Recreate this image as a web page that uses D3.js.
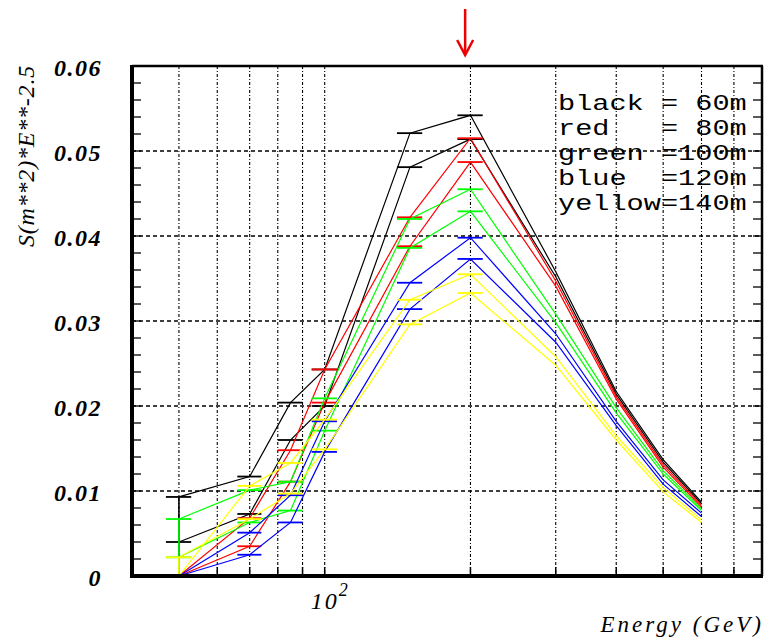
<!DOCTYPE html>
<html>
<head>
<meta charset="utf-8">
<script src="https://cdn.jsdelivr.net/npm/d3@7"></script>
<style>
  html, body { margin: 0; padding: 0; background: #fff; }
  svg { display: block; }
</style>
</head>
<body>
<svg id="chart" width="765" height="643"></svg>
<script>
// ---------------- data ----------------
const energies = [50, 70, 85, 100, 150, 200, 300, 400, 500, 600];
const xErrors  = [3, 4, 5, 6, 9, 12, 0, 0, 0, 0];

const blackA  = [0.0093, 0.0117, 0.0204, 0.0243, 0.0521, 0.0542, 0.0358, 0.0217, 0.0137, 0.0087];
const blackB  = [0.0040, 0.0073, 0.0160, 0.0200, 0.0481, 0.0514, 0.0352, 0.0214, 0.0134, 0.0085];
const redA    = [0.0000, 0.0068, 0.0148, 0.0243, 0.0422, 0.0515, 0.0347, 0.0211, 0.0131, 0.0083];
const redB    = [0.0000, 0.0035, 0.0111, 0.0204, 0.0388, 0.0487, 0.0341, 0.0208, 0.0128, 0.0081];
const greenA  = [0.0067, 0.0101, 0.0111, 0.0209, 0.0420, 0.0455, 0.0308, 0.0198, 0.0124, 0.0079];
const greenB  = [0.0022, 0.0063, 0.0077, 0.0171, 0.0386, 0.0429, 0.0298, 0.0192, 0.0120, 0.0077];
const blueA   = [0.0000, 0.0051, 0.0095, 0.0182, 0.0345, 0.0398, 0.0285, 0.0182, 0.0113, 0.0074];
const blueB   = [0.0000, 0.0025, 0.0063, 0.0146, 0.0314, 0.0373, 0.0275, 0.0177, 0.0108, 0.0070];
const yellowA = [0.0000, 0.0106, 0.0133, 0.0184, 0.0325, 0.0355, 0.0258, 0.0165, 0.0104, 0.0066];
const yellowB = [0.0022, 0.0067, 0.0097, 0.0149, 0.0296, 0.0333, 0.0248, 0.0160, 0.0099, 0.0063];

const seriesNames  = ["black", "red", "green", "blue", "yellow"];
const seriesColors = ["#000000", "#ff0000", "#00ff00", "#0000ff", "#ffff00"];
const seriesPairs  = [[blackA, blackB], [redA, redB], [greenA, greenB], [blueA, blueB], [yellowA, yellowB]];
const legendLabels = ["black = 60m", "red   = 80m", "green =100m", "blue  =120m", "yellow=140m"];

const yTickValues = [0, 0.01, 0.02, 0.03, 0.04, 0.05, 0.06];
const yTickLabels = ["0", "0.01", "0.02", "0.03", "0.04", "0.05", "0.06"];
const xGridValues = [50, 60, 70, 80, 90, 100, 200, 300, 400, 500, 600, 700];
const xLabelValue = 100;
const arrowEnergy = 195;

const yTitle = "S(m**2)*E**-2.5";
const xTitle = "Energy (GeV)";

// ---------------- layout ----------------
const svg = d3.select("#chart");
const L = 132, R = 762, T = 66, B = 576;
const serif = "Liberation Serif";

const x = d3.scaleLog().domain([40, 800]).range([L, R]);
const y = d3.scaleLinear().domain([0, 0.06]).range([B, T]);

// grid
const grid = svg.append("g");
grid.selectAll("line.vg").data(xGridValues).join("line")
  .attr("x1", d => x(d)).attr("x2", d => x(d))
  .attr("y1", T).attr("y2", B)
  .attr("stroke", "#000").attr("stroke-width", 1.1)
  .attr("stroke-dasharray", "3,2,1,2");
grid.selectAll("line.hg").data(yTickValues.slice(1, -1)).join("line")
  .attr("x1", L).attr("x2", R)
  .attr("y1", d => y(d)).attr("y2", d => y(d))
  .attr("stroke", "#000").attr("stroke-width", 1.3)
  .attr("stroke-dasharray", "4,3");

// minor ticks on left & right (every 0.002)
const minorTicks = d3.range(0, 0.0601, 0.002);
const tickLen = 9;
svg.append("g").selectAll("line").data(minorTicks).join("line")
  .attr("x1", L).attr("x2", L + tickLen)
  .attr("y1", d => y(d)).attr("y2", d => y(d))
  .attr("stroke", "#000").attr("stroke-width", 1.3);
svg.append("g").selectAll("line").data(minorTicks).join("line")
  .attr("x1", R).attr("x2", R - tickLen)
  .attr("y1", d => y(d)).attr("y2", d => y(d))
  .attr("stroke", "#000").attr("stroke-width", 1.3);
// bottom ticks
svg.append("g").selectAll("line").data(xGridValues).join("line")
  .attr("x1", d => x(d)).attr("x2", d => x(d))
  .attr("y1", B).attr("y2", B - tickLen)
  .attr("stroke", "#000").attr("stroke-width", 1.5);

// series
const line = d3.line().x(d => x(d[0])).y(d => y(d[1]));
const plot = svg.append("g");
seriesPairs.forEach((pair, si) => {
  const col = seriesColors[si];
  const g = plot.append("g").attr("class", "series-" + seriesNames[si]);
  // vertical bar at first point (from 0 to highest first value)
  const firstMax = d3.max(pair, arr => arr[0]);
  if (firstMax > 0) {
    g.append("line")
      .attr("x1", x(energies[0])).attr("x2", x(energies[0]))
      .attr("y1", y(0)).attr("y2", y(firstMax))
      .attr("stroke", col).attr("stroke-width", 1.6);
  }
  pair.forEach(vals => {
    const pts = energies.map((e, i) => ({e, v: vals[i], err: xErrors[i]}));
    g.append("path").attr("d", line(pts.map(p => [p.e, p.v])))
      .attr("fill", "none").attr("stroke", col).attr("stroke-width", 1.2);
    g.selectAll(null).data(pts.filter(p => p.err > 0)).join("line")
      .attr("x1", p => x(p.e - p.err))
      .attr("x2", p => x(p.e + p.err))
      .attr("y1", p => y(p.v)).attr("y2", p => y(p.v))
      .attr("stroke", col).attr("stroke-width", 1.8);
  });
});

// frame
svg.append("line").attr("x1", L).attr("x2", L).attr("y1", T - 1).attr("y2", B + 2)
  .attr("stroke", "#000").attr("stroke-width", 4);
svg.append("line").attr("x1", L - 2).attr("x2", R + 1).attr("y1", B).attr("y2", B)
  .attr("stroke", "#000").attr("stroke-width", 4);
svg.append("line").attr("x1", L).attr("x2", R + 1).attr("y1", T).attr("y2", T)
  .attr("stroke", "#000").attr("stroke-width", 2.5);
svg.append("line").attr("x1", R).attr("x2", R).attr("y1", T).attr("y2", B)
  .attr("stroke", "#000").attr("stroke-width", 2.5);

// y tick labels
svg.append("g").selectAll("text").data(yTickValues).join("text")
  .attr("x", 102).attr("y", d => y(d))
  .attr("dy", "0.4em")
  .attr("text-anchor", "end")
  .attr("font-family", serif)
  .attr("font-style", "italic")
  .attr("font-weight", "bold")
  .attr("font-size", 24).attr("letter-spacing", 1.5)
  .text((d, i) => yTickLabels[i]);

// y title
svg.append("text")
  .attr("transform", `translate(34, 156) rotate(-90)`)
  .attr("text-anchor", "middle")
  .attr("font-family", serif)
  .attr("font-style", "italic")
  .attr("font-size", 24)
  .attr("letter-spacing", 0.8)
  .text(yTitle);

// x label 10^2
const xl = svg.append("text")
  .attr("x", x(xLabelValue) - 14).attr("y", 609)
  .attr("font-family", serif)
  .attr("font-style", "italic")
  .attr("font-size", 24)
  .attr("letter-spacing", 2);
xl.append("tspan").text("10");
xl.append("tspan").attr("dy", -13).attr("font-size", 18).text("2");

// x title
svg.append("text")
  .attr("x", 764).attr("y", 632)
  .attr("text-anchor", "end")
  .attr("font-family", serif)
  .attr("font-style", "italic")
  .attr("font-size", 23)
  .attr("letter-spacing", 3)
  .text(xTitle);

// legend
const leg = svg.append("g");
legendLabels.forEach((t, i) => {
  leg.append("text")
    .attr("transform", `translate(558, ${110 + i * 25}) scale(1.3, 1)`)
    .attr("font-family", "Liberation Mono")
    .attr("font-size", 22)
    .style("white-space", "pre")
    .attr("fill", "#000")
    .text(t);
});

// red arrow annotation
const ax = x(arrowEnergy);
const arrow = svg.append("g").attr("stroke", "#ee0000").attr("stroke-width", 2.5).attr("fill", "none");
arrow.append("line").attr("x1", ax).attr("x2", ax).attr("y1", 9).attr("y2", 54);
arrow.append("polyline").attr("points", `${ax - 8},40 ${ax},55 ${ax + 8},40`);
</script>
</body>
</html>
